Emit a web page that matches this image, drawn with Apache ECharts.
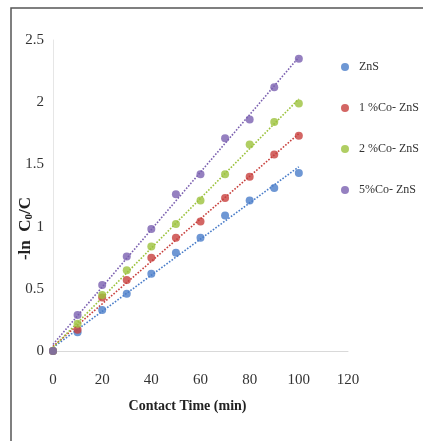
<!DOCTYPE html>
<html>
<head>
<meta charset="utf-8">
<script src="https://cdn.jsdelivr.net/npm/echarts@6/dist/echarts.min.js"></script>
<style>
html, body { margin: 0; padding: 0; background: #fff; }
#chart { width: 423px; height: 441px; }
</style>
</head>
<body>
<div id="chart"></div>
<script>
// contact time (min)
var times = [0, 10, 20, 30, 40, 50, 60, 70, 80, 90, 100];
// -ln C0/C
var znS   = [0, 0.15, 0.33, 0.46, 0.62, 0.79, 0.91, 1.09, 1.21, 1.31, 1.43];
var co1   = [0, 0.17, 0.43, 0.57, 0.75, 0.91, 1.04, 1.23, 1.40, 1.58, 1.73];
var co2   = [0, 0.22, 0.45, 0.65, 0.84, 1.02, 1.21, 1.42, 1.66, 1.84, 1.99];
var co5   = [0, 0.29, 0.53, 0.76, 0.98, 1.26, 1.42, 1.71, 1.86, 2.12, 2.35];
var names = ["ZnS", "1%Co-ZnS", "2%Co-ZnS", "5%Co-ZnS"];
var legendLabels = ["ZnS", "1 %Co- ZnS", "2 %Co- ZnS", "5%Co- ZnS"];
var colors = ["#4a7dc9", "#c8403d", "#9cc23c", "#7b60b0"];
var xTicks = [0, 120, 20];
var yTicks = [0, 2.5, 0.5];

var allSeries = [znS, co1, co2, co5];

// least squares trend line, like the spreadsheet's linear trendline
function trend(ys) {
	var n = times.length, sx = 0, sy = 0, sxx = 0, sxy = 0;
	for (var i = 0; i < n; i++) {
		sx += times[i]; sy += ys[i];
		sxx += times[i] * times[i]; sxy += times[i] * ys[i];
	}
	var b = (n * sxy - sx * sy) / (n * sxx - sx * sx);
	var a = (sy - b * sx) / n;
	var x0 = times[0], x1 = times[n - 1];
	return [[x0, a + b * x0], [x1, a + b * x1]];
}

var chart = echarts.init(document.getElementById("chart"));
var series = [];
allSeries.forEach(function (ys, k) {
	series.push({
		name: names[k] + " trend",
		type: "line",
		data: trend(ys),
		symbol: "none",
		silent: true,
		lineStyle: { color: colors[k], width: 1.6, type: "dotted" },
		z: 2,
	});
});
allSeries.forEach(function (ys, k) {
	series.push({
		name: names[k],
		type: "scatter",
		data: times.map(function (t, i) { return [t, ys[i]]; }),
		symbolSize: 8,
		itemStyle: { color: colors[k] },
		z: 3,
	});
});

var serif = "'Liberation Serif', 'Times New Roman', serif";
var option = {
	animation: false,
	backgroundColor: "#fff",
	textStyle: { fontFamily: serif },
	graphic: [
		{
			type: "polyline",
			shape: { points: [[11, 441], [11, 8], [423, 8]] },
			style: { stroke: "#555", lineWidth: 1.5, fill: null },
		},
	],
	grid: { left: 53, right: 75, top: 40, bottom: 90, outerBoundsMode: "none" },
	legend: {
		orient: "vertical",
		left: 336,
		top: 55,
		itemGap: 27,
		itemWidth: 8,
		itemHeight: 8,
		icon: "circle",
		data: names,
		formatter: function (n) { return legendLabels[names.indexOf(n)]; },
		textStyle: { fontFamily: serif, fontSize: 12, color: "#333", lineHeight: 14, padding: [0, 0, 0, 5] },
	},
	xAxis: {
		type: "value",
		min: xTicks[0],
		max: xTicks[1],
		interval: xTicks[2],
		name: "Contact Time (min)",
		nameLocation: "middle",
		nameGap: 48,
		nameMoveOverlap: false,
		nameTextStyle: { fontFamily: serif, fontSize: 14, fontWeight: "bold", color: "#222", padding: [0, 26, 0, 0] },
		axisLine: { lineStyle: { color: "#d9d9d9" } },
		axisTick: { show: false },
		splitLine: { show: false },
		axisLabel: { margin: 22, fontSize: 15, color: "#333", fontFamily: serif },
	},
	yAxis: {
		type: "value",
		min: yTicks[0],
		max: yTicks[1],
		interval: yTicks[2],
		name: "{a|-ln  C}{s|0}{a|/C}",
		nameLocation: "middle",
		nameGap: 18,
		nameRotate: 90,
		nameMoveOverlap: false,
		nameTextStyle: {
			padding: [0, 66, 0, 0],
			rich: {
				a: { fontFamily: serif, fontSize: 17, fontWeight: "bold", color: "#222" },
				s: { fontFamily: serif, fontSize: 11, fontWeight: "bold", color: "#222", verticalAlign: "bottom", padding: [7, 0, 0, 0] },
			},
		},
		axisLine: { show: true, lineStyle: { color: "#e6e6e6" } },
		axisTick: { show: false },
		splitLine: { show: false },
		axisLabel: { margin: 9, fontSize: 15, color: "#333", fontFamily: serif },
	},
	series: series,
};
chart.setOption(option, true);
window.addEventListener("resize", function () {
	chart.resize();
});
</script>
</body>
</html>
